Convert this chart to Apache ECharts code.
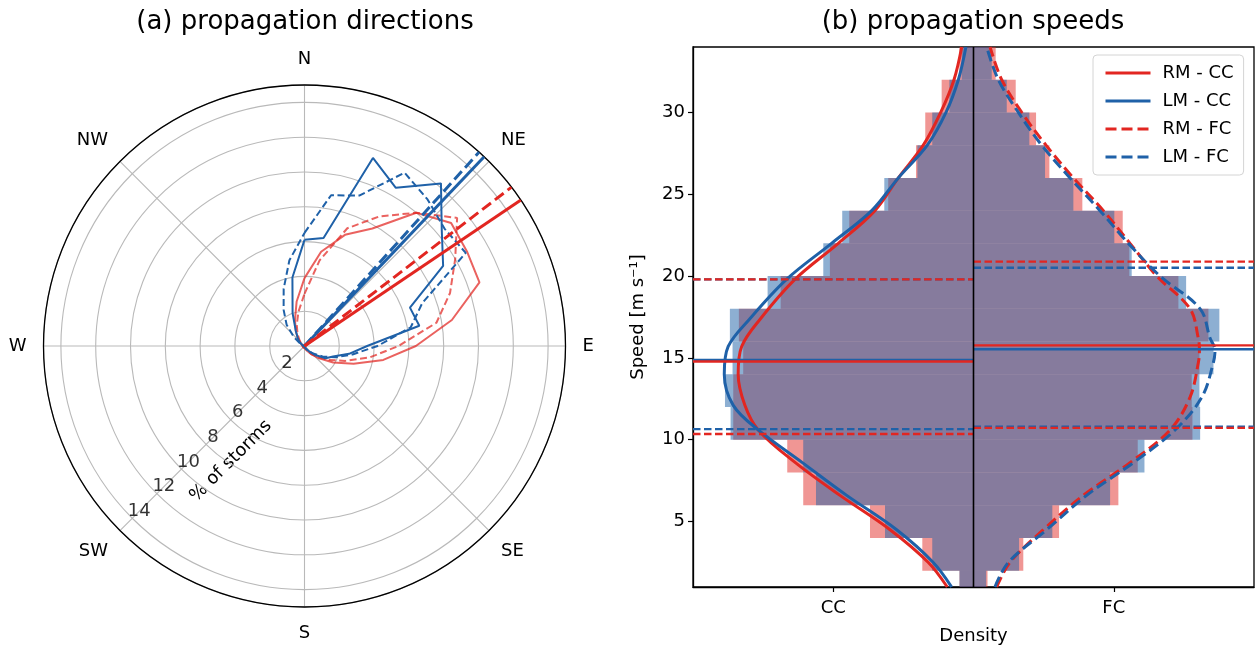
<!DOCTYPE html>
<html>
<head>
<meta charset="utf-8">
<script src="https://cdn.jsdelivr.net/npm/echarts@6/dist/echarts.min.js"></script>
<style>
html, body { margin: 0; padding: 0; background: #ffffff; }
#chart { width: 1255px; height: 650px; }
</style>
</head>
<body>
<div id="chart"></div>
<script>
// ---------- panel (a): storm propagation directions (% of storms per 10 degree bin) ----------
const dirAngles = [0, 10, 20, 30, 40, 50, 60, 70, 80, 90, 100, 110, 120, 130, 140, 150, 160, 170,
                   180, 190, 200, 210, 220, 230, 240, 250, 260, 270, 280, 290, 300, 310, 320, 330, 340, 350];
const dirRmCC = [3.9, 5.5, 6.8, 7.8, 10.0, 11.0, 10.8, 10.7, 8.6, 6.4, 4.6, 3.0, 1.9, 1.1, 0.6, 0.35, 0.2, 0.1,
                 0.1, 0.1, 0.1, 0.1, 0.1, 0.1, 0.1, 0.1, 0.1, 0.1, 0.1, 0.1, 0.2, 0.35, 0.6, 1.0, 1.6, 2.6];
const dirLmCC = [6.1, 6.3, 11.5, 10.5, 12.2, 10.3, 9.2, 6.45, 6.7, 3.6, 2.6, 1.75, 1.4, 0.8, 0.4, 0.2, 0.1, 0.05,
                 0.05, 0.05, 0.05, 0.05, 0.05, 0.05, 0.05, 0.05, 0.05, 0.05, 0.05, 0.1, 0.2, 0.4, 0.6, 1.0, 2.0, 4.0];
const dirRmFC = [3.0, 5.0, 7.2, 8.6, 10.0, 11.45, 10.0, 8.9, 7.7, 5.4, 3.8, 2.5, 1.6, 1.0, 0.6, 0.3, 0.15, 0.1,
                 0.1, 0.1, 0.1, 0.1, 0.1, 0.1, 0.1, 0.1, 0.1, 0.1, 0.1, 0.1, 0.15, 0.25, 0.45, 0.8, 1.3, 2.0];
const dirLmFC = [6.5, 8.8, 9.2, 11.5, 11.0, 10.5, 10.7, 7.2, 6.2, 4.2, 2.8, 1.9, 1.2, 0.7, 0.4, 0.2, 0.1, 0.05,
                 0.05, 0.05, 0.05, 0.05, 0.05, 0.05, 0.05, 0.05, 0.05, 0.05, 0.05, 0.15, 0.3, 0.8, 1.6, 2.4, 3.5, 5.0];
// mean propagation direction of each group (degrees clockwise from north)
const meanDir = { rmCC: 56, lmCC: 43.5, rmFC: 52.5, lmFC: 42 };
const radialTicks = [2, 4, 6, 8, 10, 12, 14];
const radialMax = 15;
const compassNames = { 0: 'N', 45: 'NE', 90: 'E', 135: 'SE', 180: 'S', 225: 'SW', 270: 'W', 315: 'NW' };

// ---------- panel (b): storm propagation speeds ----------
const speedBinEdges = [0, 2, 4, 6, 8, 10, 12, 14, 16, 18, 20, 22, 24, 26, 28, 30, 32, 34];
const histRmCC = [0.10, 0.365, 0.738, 1.214, 1.328, 1.713, 1.713, 1.642, 1.673, 1.375, 1.024, 0.886, 0.608, 0.41, 0.344, 0.227, 0.101];
const histLmCC = [0.10, 0.294, 0.631, 1.123, 1.214, 1.732, 1.772, 1.718, 1.737, 1.468, 1.071, 0.936, 0.636, 0.40, 0.294, 0.172, 0.084];
const histRmFC = [0.10, 0.355, 0.610, 1.033, 1.171, 1.561, 1.556, 1.611, 1.675, 1.461, 1.111, 1.064, 0.776, 0.541, 0.446, 0.301, 0.158];
const histLmFC = [0.09, 0.325, 0.562, 0.974, 1.219, 1.616, 1.611, 1.711, 1.753, 1.516, 1.128, 1.004, 0.712, 0.510, 0.398, 0.237, 0.130];

const kdeSpeedCC = [1, 2.5, 4.5, 6.6, 8.6, 10.6, 12.1, 14, 15.7, 17.35, 19.8, 22, 24, 26, 28, 30, 32, 34];
const kdeRmCC = [0.187, 0.322, 0.595, 0.952, 1.27, 1.535, 1.63, 1.678, 1.653, 1.523, 1.273, 0.964, 0.703, 0.536, 0.358, 0.234, 0.139, 0.084];
const kdeLmCC = [0.156, 0.287, 0.548, 0.904, 1.22, 1.535, 1.713, 1.777, 1.749, 1.599, 1.333, 1.012, 0.726, 0.536, 0.329, 0.196, 0.108, 0.054];
const kdeSpeedFC = [1, 2.5, 4.5, 6.6, 8.6, 10.6, 12.6, 14.7, 15.5, 16.2, 18, 20, 22, 24, 26, 28, 30, 32, 34];
const kdeRmFC = [0.165, 0.26, 0.498, 0.783, 1.116, 1.402, 1.544, 1.603, 1.611, 1.603, 1.544, 1.307, 1.116, 0.926, 0.712, 0.517, 0.344, 0.201, 0.118];
const kdeLmFC = [0.153, 0.248, 0.522, 0.807, 1.14, 1.437, 1.628, 1.71, 1.722, 1.687, 1.616, 1.33, 1.104, 0.902, 0.688, 0.486, 0.32, 0.177, 0.094];

// 25th percentile, median, 75th percentile of speed
const quantRmCC = [10.35, 14.78, 19.8];
const quantLmCC = [10.65, 14.88, 19.8];
const quantRmFC = [10.72, 15.77, 20.88];
const quantLmFC = [10.8, 15.53, 20.51];

const speedTicks = [5, 10, 15, 20, 25, 30];
const speedRange = [1, 34];
const densityRange = [-2, 2];
const groupTicks = { '-1': 'CC', '1': 'FC' };

// ---------- styling ----------
const FONT = 'DejaVu Sans';
const LABEL_SIZE = 18;
const RED = 'rgb(226,38,33)';
const BLUE = 'rgb(31,97,168)';
const RED_SOFT = 'rgba(226,38,33,0.72)';
const RED_HIST = 'rgba(226,45,42,0.5)';
const BLUE_HIST = 'rgba(28,96,166,0.5)';
const GRID_GREY = '#b9b9b9';

function closedRing(values) {
  const pts = dirAngles.map((a, i) => [values[i], a]);
  pts.push([values[0], 360]);
  return pts;
}

function roseSeries(name, values, color, dashed) {
  return {
    type: 'line', name, coordinateSystem: 'polar', polarIndex: 0,
    data: closedRing(values), symbol: 'none', smooth: false, silent: true, z: 3,
    itemStyle: { color },
    lineStyle: { color, width: 2, type: dashed ? [7, 3.5] : 'solid' }
  };
}

function meanSeries(name, angle, color, dashed) {
  return {
    type: 'line', name, coordinateSystem: 'polar', polarIndex: 0,
    data: [[0, angle], [radialMax, angle]], symbol: 'none', silent: true, z: 5,
    itemStyle: { color },
    lineStyle: { color, width: 3, type: dashed ? [11, 5] : 'solid' }
  };
}

function histSeries(name, values, side, fill) {
  return {
    type: 'custom', name, coordinateSystem: 'cartesian2d', clip: true, silent: true, z: 1,
    data: values.map((w, i) => [speedBinEdges[i], speedBinEdges[i + 1], w]),
    encode: { x: 2, y: 0 },
    renderItem: function (params, api) {
      const top = api.coord([0, api.value(1)]);
      const bottom = api.coord([side * api.value(2), api.value(0)]);
      return {
        type: 'rect',
        shape: {
          x: Math.min(top[0], bottom[0]), y: top[1],
          width: Math.abs(bottom[0] - top[0]), height: bottom[1] - top[1]
        },
        style: { fill: fill }
      };
    }
  };
}

function kdeSeries(name, speeds, dens, side, color, dashed) {
  return {
    type: 'line', name, xAxisIndex: 0, yAxisIndex: 0,
    data: speeds.map((s, i) => [side * dens[i], s]),
    symbol: 'none', smooth: 0.35, silent: true, z: 4, clip: true,
    itemStyle: { color },
    lineStyle: { color, width: 3, type: dashed ? [11, 5] : 'solid' }
  };
}

function hLine(value, side, color, dashed) {
  const x0 = side < 0 ? densityRange[0] : 0;
  const x1 = side < 0 ? 0 : densityRange[1];
  return {
    type: 'line', xAxisIndex: 0, yAxisIndex: 0,
    data: [[x0, value], [x1, value]], symbol: 'none', silent: true, z: 5,
    itemStyle: { color },
    lineStyle: { color, width: 2.3, type: dashed ? [7.5, 3.5] : 'solid' }
  };
}

function quantileLines(q, side, color) {
  return [hLine(q[0], side, color, true), hLine(q[1], side, color, false), hLine(q[2], side, color, true)];
}

const series = [
  // panel (a)
  roseSeries('RM - CC dir', dirRmCC, RED_SOFT, false),
  roseSeries('RM - FC dir', dirRmFC, RED_SOFT, true),
  roseSeries('LM - CC dir', dirLmCC, BLUE, false),
  roseSeries('LM - FC dir', dirLmFC, BLUE, true),
  meanSeries('LM - FC mean', meanDir.lmFC, BLUE, true),
  meanSeries('LM - CC mean', meanDir.lmCC, BLUE, false),
  meanSeries('RM - FC mean', meanDir.rmFC, RED, true),
  meanSeries('RM - CC mean', meanDir.rmCC, RED, false),
  {
    type: 'scatter', coordinateSystem: 'polar', polarIndex: 0, silent: true, z: 6,
    data: radialTicks.map(r => [r, 225]), symbolSize: 0,
    label: {
      show: true, position: 'inside', offset: [7, -7],
      formatter: p => String(p.value[0]),
      fontFamily: FONT, fontSize: LABEL_SIZE, color: '#000', textBorderWidth: 0
    }
  },
  // panel (b)
  histSeries('RM - CC hist', histRmCC, -1, RED_HIST),
  histSeries('LM - CC hist', histLmCC, -1, BLUE_HIST),
  histSeries('RM - FC hist', histRmFC, 1, RED_HIST),
  histSeries('LM - FC hist', histLmFC, 1, BLUE_HIST),
  kdeSeries('RM - CC', kdeSpeedCC, kdeRmCC, -1, RED, false),
  kdeSeries('LM - CC', kdeSpeedCC, kdeLmCC, -1, BLUE, false),
  kdeSeries('RM - FC', kdeSpeedFC, kdeRmFC, 1, RED, true),
  kdeSeries('LM - FC', kdeSpeedFC, kdeLmFC, 1, BLUE, true),
  ...quantileLines(quantLmCC, -1, BLUE),
  ...quantileLines(quantRmCC, -1, RED),
  ...quantileLines(quantLmFC, 1, BLUE),
  ...quantileLines(quantRmFC, 1, RED),
  {
    type: 'line', xAxisIndex: 0, yAxisIndex: 0, silent: true, z: 6, symbol: 'none',
    data: [[0, speedRange[0]], [0, speedRange[1]]],
    itemStyle: { color: '#000' },
    lineStyle: { color: '#000', width: 1.6 }
  }
];

const chart = echarts.init(document.getElementById('chart'), null, { renderer: 'canvas' });
chart.setOption({
  animation: false,
  backgroundColor: '#ffffff',
  textStyle: { fontFamily: FONT },
  graphic: [
    { type: 'text', x: 305, y: 22, style: { text: '(a) propagation directions', font: '26px "DejaVu Sans"', fill: '#000', textAlign: 'center', textVerticalAlign: 'middle' } },
    { type: 'text', x: 973, y: 22, style: { text: '(b) propagation speeds', font: '26px "DejaVu Sans"', fill: '#000', textAlign: 'center', textVerticalAlign: 'middle' } },
    { type: 'text', x: 231, y: 461, rotation: Math.PI / 4, style: { text: '% of storms', font: LABEL_SIZE + 'px "DejaVu Sans"', fill: '#000', textAlign: 'center', textVerticalAlign: 'middle' } }
  ],
  polar: { center: [304.5, 346], radius: 261 },
  angleAxis: {
    type: 'value', min: 0, max: 360, interval: 45, startAngle: 90, clockwise: true,
    axisLine: { show: true, lineStyle: { color: '#000', width: 1.3 } },
    axisTick: { show: false },
    axisLabel: {
      show: true, margin: 17, align: 'center', verticalAlign: 'middle',
      fontFamily: FONT, fontSize: LABEL_SIZE, color: '#000',
      formatter: v => compassNames[v] || ''
    },
    splitLine: { show: true, lineStyle: { color: GRID_GREY, width: 1.1 } }
  },
  radiusAxis: {
    type: 'value', min: 0, max: radialMax, interval: 2,
    axisLine: { show: false }, axisTick: { show: false }, axisLabel: { show: false },
    splitLine: { show: true, lineStyle: { color: GRID_GREY, width: 1.1 } }
  },
  grid: {
    left: 693, top: 47, width: 561, height: 541, show: true,
    borderColor: '#000', borderWidth: 1.3, backgroundColor: 'transparent', containLabel: false
  },
  xAxis: {
    type: 'value', min: densityRange[0], max: densityRange[1],
    name: 'Density', nameLocation: 'middle', nameGap: 40,
    nameTextStyle: { fontFamily: FONT, fontSize: LABEL_SIZE, color: '#000' },
    axisLine: { show: true, onZero: false, lineStyle: { color: '#000', width: 1.3 } },
    axisTick: { show: true, length: 5, customValues: [-1, 1], lineStyle: { color: '#000', width: 1.2 } },
    axisLabel: { show: true, margin: 12, customValues: [-1, 1], formatter: v => groupTicks[String(v)] || '', fontFamily: FONT, fontSize: LABEL_SIZE, color: '#000' },
    splitLine: { show: false }
  },
  yAxis: {
    type: 'value', min: speedRange[0], max: speedRange[1],
    name: 'Speed [m s\u207B\u00B9]', nameLocation: 'middle', nameGap: 46,
    nameTextStyle: { fontFamily: FONT, fontSize: LABEL_SIZE, color: '#000' },
    axisLine: { show: true, onZero: false, lineStyle: { color: '#000', width: 1.3 } },
    axisTick: { show: true, length: 5, customValues: speedTicks, lineStyle: { color: '#000', width: 1.2 } },
    axisLabel: { show: true, margin: 8, customValues: speedTicks, fontFamily: FONT, fontSize: LABEL_SIZE, color: '#000' },
    splitLine: { show: false }
  },
  legend: {
    data: ['RM - CC', 'LM - CC', 'RM - FC', 'LM - FC'],
    orient: 'vertical', left: 1093, top: 55,
    itemWidth: 45, itemHeight: 18, itemGap: 10,
    padding: [9, 10, 9, 11],
    itemStyle: { opacity: 0 },
    lineStyle: { width: 3 },
    backgroundColor: 'rgba(255,255,255,0.85)', borderColor: '#d4d4d4', borderWidth: 1, borderRadius: 4,
    textStyle: { fontFamily: FONT, fontSize: LABEL_SIZE, color: '#000', padding: [0, 0, 0, 7] },
    selectedMode: false
  },
  series: series
});
</script>
</body>
</html>
